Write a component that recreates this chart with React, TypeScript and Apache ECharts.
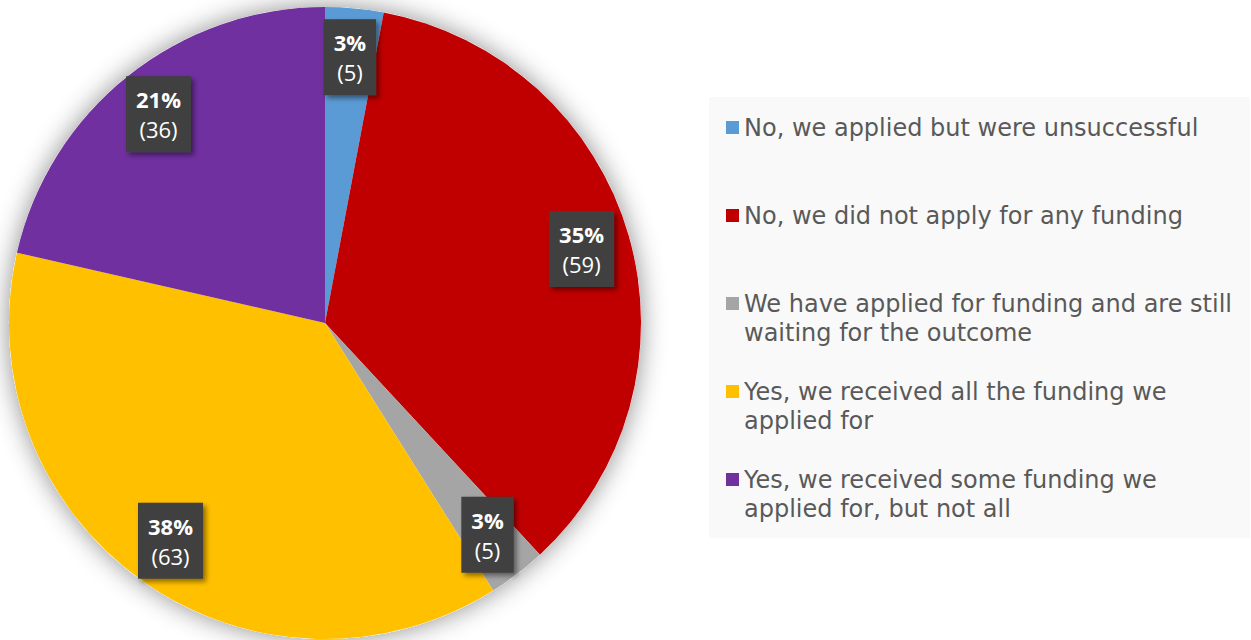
import React, { useEffect, useRef } from "react";
import * as echarts from "echarts";

const categories = [
  "No, we applied but were unsuccessful",
  "No, we did not apply for any funding",
  "We have applied for funding and are still waiting for the outcome",
  "Yes, we received all the funding we applied for",
  "Yes, we received some funding we applied for, but not all",
];
const legendLines = [
  ["No, we applied but were unsuccessful", ""],
  ["No, we did not apply for any funding", ""],
  ["We have applied for funding and are still", "waiting for the outcome"],
  ["Yes, we received all the funding we", "applied for"],
  ["Yes, we received some funding we", "applied for, but not all"],
];
const counts = [5, 59, 5, 63, 36];
const colors = ["#5B9BD5", "#C00000", "#A5A5A5", "#FFC000", "#7030A0"];

export default function App() {
  const ref = useRef<HTMLDivElement>(null);
  useEffect(() => {
    if (!ref.current) return;
    const chart = echarts.init(ref.current, undefined, { renderer: "svg" });
    const data = categories.map((name, i) => ({
      name,
      value: counts[i],
      itemStyle: { color: colors[i] },
    }));
    const total = counts.reduce((a, b) => a + b, 0);
    const center = [325, 323];
    const R = 316;
    chart.setOption({
      animation: false,
      backgroundColor: "#ffffff",
      graphic: [
        {
          type: "rect",
          left: 709,
          top: 97,
          z: 0,
          shape: { width: 541, height: 441 },
          style: { fill: "#f9f9f9" },
        },
      ],
      legend: {
        orient: "vertical",
        left: 726,
        top: 84,
        padding: 0,
        itemWidth: 13,
        itemHeight: 13,
        itemGap: 1,
        icon: "rect",
        selectedMode: false,
        data: categories.map((name) => ({ name })),
        formatter: (name: string) => {
          const l = legendLines[categories.indexOf(name)];
          return "\n" + l[0] + "\n" + l[1];
        },
        textStyle: {
          fontFamily: "DejaVu Sans",
          fontSize: 24,
          lineHeight: 29,
          color: "#595959",
        },
      },
      series: [
        {
          type: "pie",
          name: "shadow",
          center,
          radius: [0, R],
          silent: true,
          label: { show: false },
          labelLine: { show: false },
          itemStyle: {
            color: "#ffffff",
            shadowBlur: 26,
            shadowColor: "rgba(0,0,0,0.45)",
          },
          data: [{ name: "__bg", value: total }],
        },
        {
          type: "pie",
          name: "main",
          center,
          radius: [0, R],
          startAngle: 90,
          clockwise: true,
          silent: true,
          label: { show: false },
          labelLine: { show: false },
          data,
        },
        {
          type: "pie",
          name: "labels",
          center,
          radius: [212, R],
          startAngle: 90,
          clockwise: true,
          silent: true,
          itemStyle: { color: "rgba(0,0,0,0)" },
          labelLine: { show: false },
          label: {
            show: true,
            position: "inside",
            fontFamily: "Open Sans",
            fontSize: 22,
            lineHeight: 30,
            color: "#ffffff",
            backgroundColor: "#3f3f3f",
            padding: [8, 10],
            shadowBlur: 5,
            shadowOffsetX: 3,
            shadowOffsetY: 3,
            shadowColor: "rgba(0,0,0,0.45)",
            formatter: (p: any) =>
              `{b|${Math.round(p.percent)}%}\n{n|(${p.value})}`,
            rich: {
              b: {
                fontFamily: "Open Sans",
                fontWeight: "bold",
                fontSize: 22,
                lineHeight: 30,
                color: "#ffffff",
                align: "center",
              },
              n: {
                fontFamily: "Open Sans",
                fontSize: 22,
                lineHeight: 30,
                color: "#ffffff",
                align: "center",
              },
            },
          },
          data: categories.map((name, i) => ({ name, value: counts[i] })),
        },
      ],
    });
    return () => chart.dispose();
  }, []);
  return (
    <div
      ref={ref}
      style={{ position: "fixed", left: 0, top: 0, width: 1251, height: 640 }}
    />
  );
}
